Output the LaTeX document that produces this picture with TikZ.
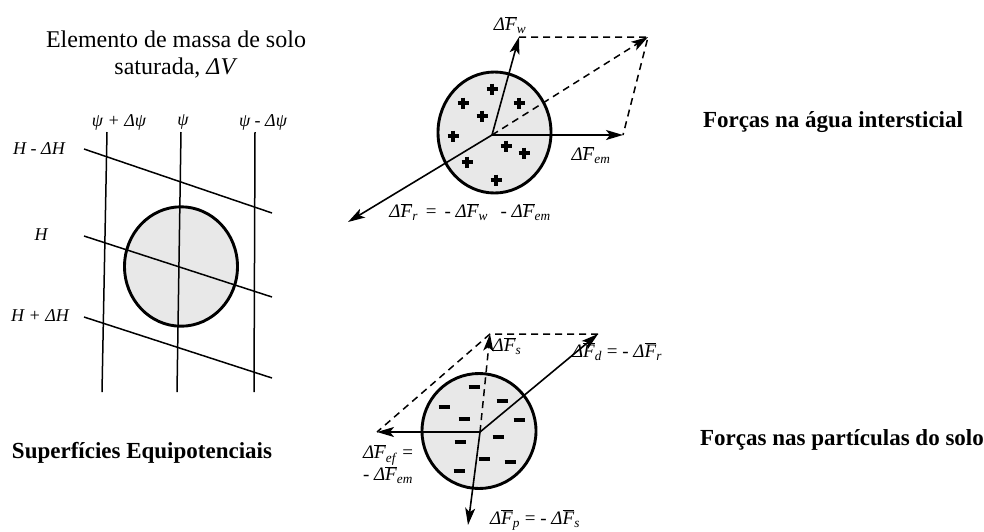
\documentclass[tikz,border=0pt]{standalone}
\usepackage{fontspec}
\setmainfont{Liberation Serif}
\usetikzlibrary{arrows.meta}
\newcommand{\dF}[1]{\textit{Δ}$\overline{\mbox{\textit{F}}}$\textsubscript{\textit{#1}}}
\begin{document}
\begin{tikzpicture}[x=1pt,y=-1pt,
    vetor/.style={-{Stealth[length=17pt,width=10pt,inset=4pt]}, line width=1.6pt},
    tracejado/.style={dash pattern=on 7pt off 5pt, line width=1.5pt},
    linha/.style={line width=1.5pt},
    elemento/.style={line width=2.9pt, fill=black!9},
    rotulo/.style={font=\fontsize{18}{20}\selectfont\itshape},
    forca/.style={font=\fontsize{19}{22}\selectfont},
    titulo/.style={font=\fontsize{23}{27}\selectfont\bfseries}]
    \useasboundingbox (0,0) rectangle (984,531);
    % Elemento de solo e superficies equipotenciais
    \node[align=center, font=\fontsize{24}{27}\selectfont] (tit) at (176,55)
        {Elemento de massa de solo\\saturada, \textit{ΔV}};
    \draw[elemento] (181,266.5) ellipse (56.5 and 59.7);
    \foreach \xa/\xb in {107/102,181/177,255/254}
        \draw[linha] (\xa,132) -- (\xb,392);
    \foreach \ya/\yb in {149/213,236/297,317/378}
        \draw[linha] (84,\ya) -- (272,\yb);
    \node[rotulo] (psi1) at (119,122) {ψ + Δψ};
    \node[rotulo] (psi2) at (183,122) {ψ};
    \node[rotulo] (psi3) at (263,122) {ψ - Δψ};
    \node[rotulo] (h1) at (39,149) {H - ΔH};
    \node[rotulo] (h2) at (41,235) {H};
    \node[rotulo] (h3) at (40,316) {H + ΔH};
    \node[titulo] (sup) at (142,453) {Superfícies Equipotenciais};
    % Forcas na agua intersticial
    \draw[elemento] (494.5,132.5) ellipse (56.5 and 60.5);
    \foreach \px/\py in {492/89,463/103,519/103,482/116,453/136,506/146,524/153,467/162,496/180}
        \draw[line width=3.4pt] (\px-5.5,\py) -- (\px+5.5,\py) (\px,\py-5.5) -- (\px,\py+5.5);
    \coordinate (O1) at (492,135);
    \coordinate (Fw) at (519,37);
    \coordinate (R1) at (648,37);
    \coordinate (Fem) at (623,135);
    \coordinate (Fr) at (348,222);
    \draw[tracejado] (Fw) -- (R1) -- (Fem);
    \draw[tracejado, vetor, line width=1.5pt] (O1) -- (R1);
    \draw[vetor] (O1) -- (Fw);
    \draw[vetor] (O1) -- (Fem);
    \draw[vetor] (O1) -- (Fr);
    \node[forca] (lw) at (510,25) {\dF{w}};
    \node[forca] (lem) at (591,155) {\dF{em}};
    \node[forca] (lr) at (470,212) {\dF{r} \,=\, - \dF{w} \ \,- \dF{em}};
    \node[titulo] (agua) at (833,122) {Forças na água intersticial};
    % Forcas nas particulas do solo
    \draw[elemento] (479,431) ellipse (57 and 57.5);
    \foreach \px/\py in {474/387,444/407,464/419,502/401,519/420,460/442,498/437,484/459,510/462,459/471}
        \draw[line width=3.8pt] (\px-5.5,\py) -- (\px+5.5,\py);
    \coordinate (O2) at (480,432);
    \coordinate (Fd) at (598,334);
    \coordinate (Fs) at (490,334);
    \coordinate (Fef) at (377,432);
    \coordinate (Fp) at (468,525);
    \draw[tracejado] (Fd) -- (Fs) -- (Fef);
    \draw[tracejado, vetor, line width=1.5pt] (O2) -- (Fs);
    \draw[vetor] (O2) -- (Fd);
    \draw[vetor] (O2) -- (Fef);
    \draw[vetor] (O2) -- (Fp);
    \node[forca] (ld) at (617,352) {\dF{d} = - \dF{r}};
    \node[forca] (ls) at (507,346) {\dF{s}};
    \node[forca, align=center] (lef) at (388,464) {\dF{ef} =\\- \dF{em}};
    \node[forca] (lp) at (535,520) {\dF{p} = - \dF{s}};
    \node[titulo] (solo) at (842,440) {Forças nas partículas do solo};
\end{tikzpicture}
\end{document}
